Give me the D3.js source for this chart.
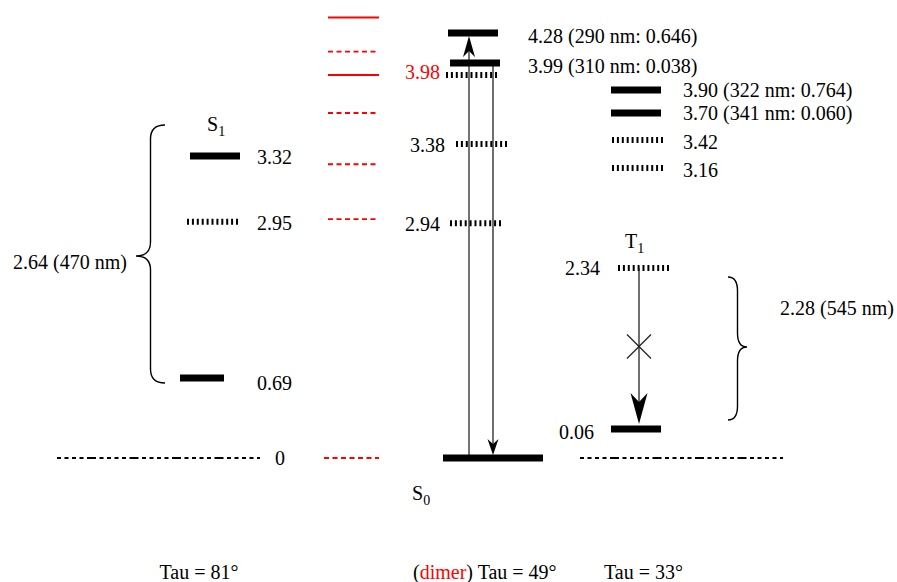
<!DOCTYPE html>
<html>
<head>
<meta charset="utf-8">
<script src="https://cdn.jsdelivr.net/npm/d3@7"></script>
<style>
  html, body { margin: 0; padding: 0; background: #fff; }
  svg { display: block; font-family: "Liberation Serif", "Times New Roman", serif; }
</style>
</head>
<body>
<svg id="chart"></svg>
<script>
// energies in eV
const tau81Levels = [3.32, 2.95, 0.69];
const tau81Kinds = ["bright", "dark", "bright"];
const dimerSolid = [4.43, 3.98];
const dimerDashed = [4.10, 3.70, 3.21, 2.96, 0];
const tau49Bright = [4.28, 3.99];
const tau49BrightLabels = ["4.28 (290 nm: 0.646)", "3.99 (310 nm: 0.038)"];
const tau49Dark = [3.98, 3.38, 2.94];
const tau49DarkLabels = ["3.98", "3.38", "2.94"];
const tau33Bright = [3.90, 3.70];
const tau33BrightLabels = ["3.90 (322 nm: 0.764)", "3.70 (341 nm: 0.060)"];
const tau33Dark = [3.42, 3.16];
const tripletLevels = [2.34, 0.06];
const groundEnergy = 0;
const columnNames = ["tau81", "dimer", "tau49", "tau33", "T1"];
const footerLabels = ["Tau = 81°", "Tau = 49°", "Tau = 33°"];

const W = 897, H = 582;
const FS = 20;
const svg = d3.select("#chart").attr("width", W).attr("height", H);

const y = d3.scaleLinear()
  .domain([0, 0.06, 0.69, 2.34, 2.945, 3.16, 3.32, 3.38, 3.42, 3.70, 3.90, 3.98, 3.99, 4.28])
  .range([458, 429, 378, 268, 223, 168, 156, 144, 140, 113, 90, 75, 63, 33]);

const x = d3.scaleOrdinal().domain(columnNames).range([212, 353, 473, 636, 640]);
const halfW = 25;

function bar(cx, e, w = halfW) {
  svg.append("line")
    .attr("x1", cx - w).attr("x2", cx + w)
    .attr("y1", y(e)).attr("y2", y(e))
    .attr("stroke", "#000").attr("stroke-width", 7);
}
function hatched(cx, e) {
  svg.append("line")
    .attr("x1", cx - halfW).attr("x2", cx + halfW + 1)
    .attr("y1", y(e)).attr("y2", y(e))
    .attr("stroke", "#000").attr("stroke-width", 6)
    .attr("stroke-dasharray", "2,2.9");
}
function label(tx, e, text, anchor = "start", color = "#000", dy = 2) {
  svg.append("text")
    .attr("x", tx).attr("y", y(e) + dy)
    .attr("dy", "0.35em")
    .attr("text-anchor", anchor)
    .attr("font-size", FS)
    .attr("fill", color)
    .text(text);
}
function subLabel(tx, ty, main, sub) {
  const t = svg.append("text").attr("x", tx).attr("y", ty).attr("font-size", FS);
  t.append("tspan").text(main);
  t.append("tspan").attr("font-size", 14).attr("dy", 5).text(sub);
}
function arrowHead(cx, yTip, dir, len, hw, notch) {
  // dir = 1 points down, -1 points up
  const b = yTip - dir * len;
  svg.append("path")
    .attr("d", `M${cx},${yTip} L${cx - hw},${b} L${cx},${b + dir * notch} L${cx + hw},${b} Z`)
    .attr("fill", "#000");
}
function brace(xEnd, xTip, y0, y1, ym) {
  const xm = (xEnd + xTip) / 2, r = 14;
  const d = `M${xEnd},${y0} Q${xm},${y0} ${xm},${y0 + r} L${xm},${ym - r} Q${xm},${ym} ${xTip},${ym}` +
            ` Q${xm},${ym} ${xm},${ym + r} L${xm},${y1 - r} Q${xm},${y1} ${xEnd},${y1}`;
  svg.append("path").attr("d", d).attr("fill", "none").attr("stroke", "#000").attr("stroke-width", 1.4);
}

// ground lines
const groundDash = "4,3.5,4,3.5,4,3.5,4,3.5,9,3.5";
svg.append("line").attr("x1", 57).attr("x2", 260).attr("y1", y(groundEnergy)).attr("y2", y(groundEnergy))
  .attr("stroke", "#000").attr("stroke-width", 2).attr("stroke-dasharray", groundDash);
svg.append("line").attr("x1", 580).attr("x2", 783).attr("y1", y(groundEnergy)).attr("y2", y(groundEnergy))
  .attr("stroke", "#000").attr("stroke-width", 2).attr("stroke-dasharray", groundDash);
label(275, groundEnergy, "0", "start", "#000", 0);

// Tau = 81 column (S1)
tau81Levels.forEach((e, i) => {
  if (tau81Kinds[i] === "bright") {
    if (i === 2) bar(x("tau81") - 10, e, 22); else bar(x("tau81") + 3, e);
  } else hatched(x("tau81"), e);
  label(257, e, e.toFixed(2), "start", "#000", i === 2 ? 5 : 1);
});
subLabel(207, 131, "S", "1");
brace(165, 136, y(tau81Levels[0]) - 31, y(tau81Levels[2]) + 5, 256);
svg.append("text").attr("x", 127).attr("y", 262).attr("dy", "0.35em")
  .attr("text-anchor", "end").attr("font-size", FS).text("2.64 (470 nm)");

// dimer column (red)
dimerSolid.forEach(e => {
  svg.append("line").attr("x1", x("dimer") - halfW).attr("x2", x("dimer") + halfW + 1)
    .attr("y1", y(e)).attr("y2", y(e)).attr("stroke", "#f00").attr("stroke-width", 1.8);
});
dimerDashed.forEach(e => {
  svg.append("line").attr("x1", x("dimer") - halfW - (e === 0 ? 4 : 0)).attr("x2", x("dimer") + halfW + 1)
    .attr("y1", y(e)).attr("y2", y(e)).attr("stroke", "#f00").attr("stroke-width", 1.8)
    .attr("stroke-dasharray", "5,3.5");
});

// Tau = 49 column
const mx = x("tau49");
// transitions
svg.append("line").attr("x1", mx - 4).attr("x2", mx - 4)
  .attr("y1", y(groundEnergy) - 3).attr("y2", y(tau49Bright[0]) + 14)
  .attr("stroke", "#444").attr("stroke-width", 1.5);
arrowHead(mx - 4, y(tau49Bright[0]) + 3, -1, 21, 6, 6);
svg.append("line").attr("x1", mx + 20).attr("x2", mx + 20)
  .attr("y1", y(tau49Bright[1]) + 3).attr("y2", y(groundEnergy) - 12)
  .attr("stroke", "#222").attr("stroke-width", 1.3);
arrowHead(mx + 20, y(groundEnergy) - 3, 1, 16, 5.5, 5);

tau49Bright.forEach((e, i) => {
  bar(mx + (i === 1 ? 2 : 0), e);
  label(528, e, tau49BrightLabels[i], "start", "#000", 3);
});
tau49Dark.forEach((e, i) => {
  hatched(mx + (i === 1 ? 8 : (i === 0 ? -2 : 2)), e);
  label(i === 1 ? 445 : 440, e, tau49DarkLabels[i], "end", i === 0 ? "#f00" : "#000", i === 0 ? -3 : 1);
});
svg.append("line").attr("x1", mx - 30).attr("x2", mx + 70)
  .attr("y1", y(groundEnergy)).attr("y2", y(groundEnergy))
  .attr("stroke", "#000").attr("stroke-width", 7);
subLabel(412, 500, "S", "0");

// Tau = 33 column
tau33Bright.forEach((e, i) => {
  bar(x("tau33"), e);
  label(683, e, tau33BrightLabels[i], "start", "#000", 0);
});
tau33Dark.forEach(e => {
  hatched(x("tau33") + 1, e);
  label(683, e, e.toFixed(2), "start", "#000", 2);
});

// T1
const tx = x("T1");
hatched(tx + 3, tripletLevels[0]);
bar(tx - 4, tripletLevels[1]);
label(600, tripletLevels[0], tripletLevels[0].toFixed(2), "end", "#000", 0);
label(594, tripletLevels[1], tripletLevels[1].toFixed(2), "end", "#000", 3);
subLabel(625, 248, "T", "1");
svg.append("line").attr("x1", tx - 1).attr("x2", tx - 1)
  .attr("y1", y(tripletLevels[0])).attr("y2", y(tripletLevels[1]) - 20)
  .attr("stroke", "#222").attr("stroke-width", 1.3);
arrowHead(tx - 1, y(tripletLevels[1]) - 5, 1, 31, 8.5, 9);
const xmid = (y(tripletLevels[0]) + y(tripletLevels[1])) / 2 - 2;
[1, -1].forEach(s => {
  svg.append("line")
    .attr("x1", tx - 13).attr("y1", xmid - s * 12)
    .attr("x2", tx + 11).attr("y2", xmid + s * 12)
    .attr("stroke", "#222").attr("stroke-width", 1.2);
});
brace(728, 747, y(tripletLevels[0]) + 9, y(tripletLevels[1]) - 9, 347);
svg.append("text").attr("x", 780).attr("y", 308).attr("dy", "0.35em")
  .attr("font-size", FS).text("2.28 (545 nm)");

// footer
svg.append("text").attr("x", 199).attr("y", 579).attr("text-anchor", "middle")
  .attr("font-size", FS).text(footerLabels[0]);
const f2 = svg.append("text").attr("x", 413).attr("y", 579).attr("font-size", FS);
f2.append("tspan").text("(");
f2.append("tspan").attr("fill", "#f00").text("dimer");
f2.append("tspan").text(") " + footerLabels[1]);
svg.append("text").attr("x", 604).attr("y", 579).attr("font-size", FS).text(footerLabels[2]);
</script>
</body>
</html>
